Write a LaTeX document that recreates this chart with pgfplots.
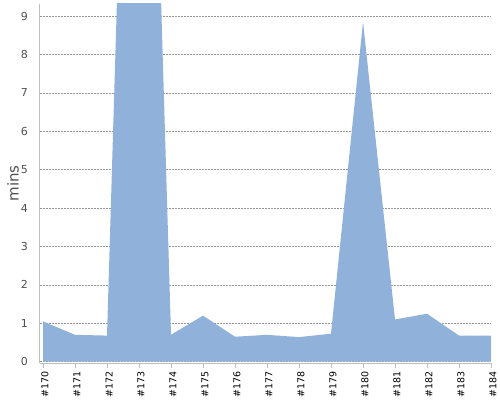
\documentclass[border=0pt]{standalone}
\usepackage{fontspec}
\setmainfont{DejaVu Sans}
\usepackage{pgfplots}
\pgfplotsset{compat=1.18}
\definecolor{areablue}{RGB}{143,177,218}
\definecolor{axgray}{RGB}{190,190,190}
\definecolor{gridgray}{RGB}{150,150,150}
\definecolor{labgray}{RGB}{80,80,80}
\begin{document}
\begin{tikzpicture}[x=1pt,y=1pt]
\begin{axis}[
  at={(39.5pt,37pt)}, anchor=south west,
  scale only axis,
  width=451.5pt, height=359.5pt,
  xmin=169.89, xmax=184,
  ymin=-0.034, ymax=9.33,
  axis x line*=bottom, axis y line*=left,
  axis line style={axgray, line width=1pt},
  xtick={170,...,184},
  xticklabels={\#170,\#171,\#172,\#173,\#174,\#175,\#176,\#177,\#178,\#179,\#180,\#181,\#182,\#183,\#184},
  ytick={0,...,9},
  x tick label style={rotate=90, anchor=east, font=\fontsize{9.5}{11}\selectfont, text=black},
  y tick label style={font=\fontsize{11}{13}\selectfont, text=labgray},
  xtick style={axgray, line width=1pt},
  ytick style={draw=none},
  tick align=outside,
  major tick length=5pt,
  x tick label style={yshift=-2pt},
  y tick label style={xshift=-3pt},
  /pgf/number format/assume math mode=true,
  ymajorgrids,
  major grid style={gridgray, dash pattern=on 2pt off 1pt, line width=0.5pt},
  ylabel={mins},
  ylabel style={font=\fontsize{15}{17}\selectfont, text=labgray,
    at={(axis description cs:-0.0587,0.5)}, anchor=center},
  clip=true,
]
\addplot[fill=areablue, draw=none] coordinates {
  (170,1.05) (171,0.70) (172,0.68) (173,28.7) (174,0.70)
  (175,1.20) (176,0.65) (177,0.70) (178,0.64) (179,0.73)
  (180,8.85) (181,1.10) (182,1.25) (183,0.68) (184,0.68)
} \closedcycle;
\end{axis}
\pgfresetboundingbox
\useasboundingbox (0,0) rectangle (500pt,400pt);
\end{tikzpicture}
\end{document}
